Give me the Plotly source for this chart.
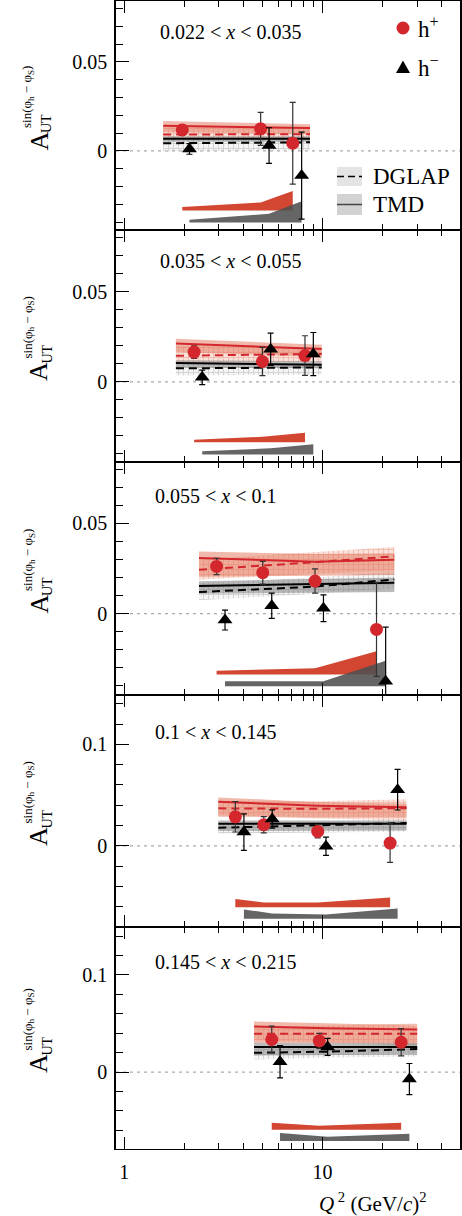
import plotly.graph_objects as go

# ---------------- data ----------------
bin_labels = ["0.022 < <i>x</i> < 0.035", "0.035 < <i>x</i> < 0.055", "0.055 < <i>x</i> < 0.1",
              "0.1 < <i>x</i> < 0.145", "0.145 < <i>x</i> < 0.215"]

# h+ points
hp_q2 = [[1.96, 4.87, 7.07], [2.25, 4.97, 8.15], [2.92, 4.99, 9.16, 18.7],
         [3.63, 5.05, 9.45, 21.9], [5.54, 9.62, 24.9]]
hp_a = [[0.0118, 0.0124, 0.0043], [0.0165, 0.0113, 0.0146], [0.0262, 0.0227, 0.0181, -0.0087],
        [0.0286, 0.0207, 0.0142, 0.0027], [0.0335, 0.0321, 0.0307]]
hp_err = [[0.003, 0.0093, 0.023], [0.0035, 0.0078, 0.011], [0.0045, 0.0063, 0.0067, 0.026],
          [0.015, 0.008, 0.0065, 0.019], [0.0137, 0.0077, 0.014]]
hp_sys = [[0.0019, 0.0045, 0.011], [0.0013, 0.003, 0.0052], [0.002, 0.0027, 0.0034, 0.0128],
          [0.0079, 0.0046, 0.0046, 0.0095], [0.0072, 0.0041, 0.0072]]

# h- points
hm_q2 = [[2.13, 5.37, 7.84], [2.47, 5.47, 8.98], [3.22, 5.54, 10.1, 20.8],
         [4.01, 5.57, 10.4, 23.9], [6.10, 10.6, 27.4]]
hm_a = [[0.0011, 0.003, -0.0139], [0.0025, 0.0181, 0.0154], [-0.0035, 0.0044, 0.003, -0.0374],
        [0.0135, 0.0265, -0.0005, 0.0553], [0.0106, 0.0259, -0.0072]]
hm_err = [[0.003, 0.010, 0.0245], [0.004, 0.009, 0.012], [0.0055, 0.007, 0.0074, 0.03],
          [0.018, 0.009, 0.009, 0.02], [0.0165, 0.0088, 0.016]]
hm_sys = [[0.0015, 0.0049, 0.012], [0.0019, 0.0035, 0.0058], [0.0028, 0.0028, 0.0028, 0.0142],
          [0.0092, 0.0053, 0.0043, 0.0102], [0.0082, 0.0044, 0.0075]]

# model curves (Q2 nodes)
mod_q2 = [[1.57, 8.64], [1.82, 9.9], [2.38, 9.16, 23.0], [2.98, 9.45, 26.5], [4.51, 10.6, 30.0]]
# TMD h+
tmd_hp = [[0.0142, 0.0128], [0.0213, 0.0182], [0.0308, 0.0288, 0.0299], [0.0434, 0.0395, 0.0379], [0.0468, 0.045, 0.0437]]
tmd_hp_lo = [[0.0105, 0.0095], [0.0165, 0.0140], [0.0205, 0.0210, 0.0214], [0.0286, 0.0285, 0.0285], [0.030, 0.030, 0.030]]
tmd_hp_hi = [[0.0168, 0.0150], [0.0239, 0.0206], [0.0345, 0.0330, 0.0335], [0.0477, 0.0430, 0.0415], [0.052, 0.050, 0.048]]
# DGLAP h+
dgl_hp = [[0.0092, 0.0094], [0.0145, 0.0155], [0.0244, 0.0285, 0.0318], [0.0369, 0.0365, 0.037], [0.0393, 0.0393, 0.0395]]
dgl_hp_lo = [[0.0068, 0.0068], [0.011, 0.011], [0.019, 0.022, 0.024], [0.030, 0.027, 0.025], [0.033, 0.030, 0.028]]
dgl_hp_hi = [[0.0135, 0.013], [0.020, 0.019], [0.030, 0.034, 0.037], [0.0445, 0.044, 0.046], [0.047, 0.048, 0.050]]
# TMD h-
tmd_hm = [[0.0068, 0.0068], [0.0104, 0.0095], [0.0153, 0.0163, 0.0172], [0.0217, 0.0217, 0.0217], [0.0259, 0.0259, 0.0259]]
tmd_hm_lo = [[0.0052, 0.005], [0.008, 0.0075], [0.011, 0.0115, 0.012], [0.0145, 0.015, 0.015], [0.017, 0.0175, 0.018]]
tmd_hm_hi = [[0.0082, 0.0082], [0.012, 0.0115], [0.018, 0.019, 0.020], [0.025, 0.025, 0.025], [0.030, 0.030, 0.030]]
# DGLAP h-
dgl_hm = [[0.0043, 0.0048], [0.0075, 0.008], [0.012, 0.015, 0.019], [0.0178, 0.020, 0.0224], [0.0198, 0.021, 0.0236]]
dgl_hm_lo = [[-0.0003, 0.0005], [0.0035, 0.004], [0.0075, 0.011, 0.014], [0.012, 0.013, 0.014], [0.013, 0.015, 0.016]]
dgl_hm_hi = [[0.0065, 0.0068], [0.0095, 0.010], [0.017, 0.020, 0.0235], [0.022, 0.024, 0.026], [0.024, 0.026, 0.030]]

# ---------------- layout geometry/styles ----------------
W, H = 462, 1216
ML, MR, MT, MB = 116, 2, 1, 67
PW, PH = W - ML - MR, H - MT - MB
panel_px = [(1, 230), (230, 462), (462, 695), (695, 927), (927, 1149)]
y_ranges = [[-0.0445, 0.0843], [-0.0445, 0.0843], [-0.045, 0.0840], [-0.0801, 0.1487], [-0.0792, 0.1493]]
y_major = [[0, 0.05], [0, 0.05], [0, 0.05], [0, 0.1], [0, 0.1]]
y_major_txt = [["0", "0.05"], ["0", "0.05"], ["0", "0.05"], ["0", "0.1"], ["0", "0.1"]]
y_minor = [0.01, 0.01, 0.01, 0.02, 0.02]
sys_base_hp = [-0.0335, -0.0335, -0.0336, -0.0605, -0.0594]
sys_base_hm = [-0.0403, -0.0404, -0.0402, -0.0720, -0.0710]

RED = "#d3262d"
SYSRED = "#d24632"
SYSGREY = "rgba(80,80,80,0.88)"
FONT = "Liberation Serif"

def px_x(p):
    return (p - ML) / PW

def px_y(p):
    return (MT + PH - p) / PH

fig = go.Figure()

def ax(i):
    return ("x" if i == 0 else f"x{i+1}"), ("y" if i == 0 else f"y{i+1}")

for i in range(5):
    xr, yr = ax(i)
    mx = mod_q2[i]
    rx = mx[::-1]
    common = dict(xaxis=xr, yaxis=yr, hoverinfo="skip", showlegend=False)
    # DGLAP hatched bands
    fig.add_trace(go.Scatter(x=mx + rx, y=dgl_hm_hi[i] + dgl_hm_lo[i][::-1], fill="toself", mode="lines",
                             line=dict(width=0), fillcolor="rgba(0,0,0,0)",
                             fillpattern=dict(shape="+", size=5, solidity=0.35,
                                              fgcolor="rgba(165,165,165,0.85)", bgcolor="rgba(215,215,215,0.25)"),
                             **common))
    fig.add_trace(go.Scatter(x=mx + rx, y=dgl_hp_hi[i] + dgl_hp_lo[i][::-1], fill="toself", mode="lines",
                             line=dict(width=0), fillcolor="rgba(0,0,0,0)",
                             fillpattern=dict(shape="+", size=5, solidity=0.35,
                                              fgcolor="rgba(228,140,118,0.85)", bgcolor="rgba(240,170,150,0.35)"),
                             **common))
    # TMD solid bands
    fig.add_trace(go.Scatter(x=mx + rx, y=tmd_hp_hi[i] + tmd_hp_lo[i][::-1], fill="toself", mode="lines",
                             line=dict(width=0), fillcolor="rgba(226,115,88,0.5)", **common))
    fig.add_trace(go.Scatter(x=mx + rx, y=tmd_hm_hi[i] + tmd_hm_lo[i][::-1], fill="toself", mode="lines",
                             line=dict(width=0), fillcolor="rgba(120,120,120,0.5)", **common))
    # central curves
    fig.add_trace(go.Scatter(x=mx, y=tmd_hp[i], mode="lines", line=dict(color=RED, width=2), **common))
    fig.add_trace(go.Scatter(x=mx, y=dgl_hp[i], mode="lines", line=dict(color=RED, width=2, dash="8px,5px"), **common))
    fig.add_trace(go.Scatter(x=mx, y=tmd_hm[i], mode="lines", line=dict(color="black", width=2), **common))
    fig.add_trace(go.Scatter(x=mx, y=dgl_hm[i], mode="lines", line=dict(color="black", width=2, dash="8px,5px"), **common))
    # systematic bands
    bp = sys_base_hp[i]
    fig.add_trace(go.Scatter(x=hp_q2[i] + hp_q2[i][::-1],
                             y=[bp + s for s in hp_sys[i]] + [bp for _ in hp_sys[i]],
                             fill="toself", mode="lines", line=dict(width=0), fillcolor=SYSRED, **common))
    bm = sys_base_hm[i]
    fig.add_trace(go.Scatter(x=hm_q2[i] + hm_q2[i][::-1],
                             y=[bm + s for s in hm_sys[i]] + [bm for _ in hm_sys[i]],
                             fill="toself", mode="lines", line=dict(width=0), fillcolor=SYSGREY, **common))
    # data points
    fig.add_trace(go.Scatter(x=hp_q2[i], y=hp_a[i], mode="markers",
                             marker=dict(symbol="circle", size=13, color=RED),
                             error_y=dict(type="data", array=hp_err[i], color="#333", thickness=1.2, width=3),
                             **common))
    fig.add_trace(go.Scatter(x=hm_q2[i], y=hm_a[i], mode="markers",
                             marker=dict(symbol="triangle-up", size=13, color="black"),
                             error_y=dict(type="data", array=hm_err[i], color="black", thickness=1.2, width=3),
                             **common))

layout = dict(width=W, height=H, margin=dict(l=ML, r=MR, t=MT, b=MB, pad=0),
              plot_bgcolor="white", paper_bgcolor="white", showlegend=False,
              font=dict(family=FONT, color="black"))
shapes, annos = [], []
for i in range(5):
    top, bot = panel_px[i]
    xname = "xaxis" if i == 0 else f"xaxis{i+1}"
    yname = "yaxis" if i == 0 else f"yaxis{i+1}"
    xr, yr = ax(i)
    layout[xname] = dict(type="log", range=[-0.042, 1.693], domain=[0, 1], anchor=yr,
                         tickvals=[1, 10], ticktext=["1", "10"], ticks="inside", ticklen=12, tickwidth=1.2,
                         tickcolor="black",
                         minor=dict(tickvals=[2, 3, 4, 5, 6, 7, 8, 9, 20, 30, 40], ticks="inside",
                                    ticklen=6, tickwidth=1, tickcolor="black"),
                         showline=True, linewidth=1, linecolor="black", mirror="ticks",
                         showgrid=False, zeroline=False, showticklabels=(i == 4),
                         tickfont=dict(family=FONT, size=20, color="black"), ticklabelstandoff=5)
    if i > 0:
        layout[xname]["matches"] = "x"
    layout[yname] = dict(domain=[px_y(bot), px_y(top)], range=y_ranges[i], anchor=xr,
                         tickvals=y_major[i], ticktext=y_major_txt[i], ticks="inside", ticklen=13,
                         tickwidth=1.2, tickcolor="black",
                         minor=dict(dtick=y_minor[i], tick0=0, ticks="inside", ticklen=7, tickwidth=1,
                                    tickcolor="black"),
                         showline=True, linewidth=1.5, linecolor="black", mirror=True,
                         showgrid=False, zeroline=False,
                         tickfont=dict(family=FONT, size=20, color="black"), ticklabelstandoff=3)
    # zero reference line
    shapes.append(dict(type="line", xref=f"{xr} domain", yref=yr, x0=0, x1=1, y0=0, y1=0,
                       line=dict(color="#aaaaaa", width=1.2, dash="3px,4px"), layer="below"))
    # bin label
    annos.append(dict(text=bin_labels[i], xref="paper", yref="paper", x=px_x(153 if i >= 2 else 158),
                      y=px_y(top + (31 if i < 2 else 34 if i == 2 else 37 if i == 3 else 35)),
                      xanchor="left", yanchor="middle", showarrow=False,
                      font=dict(family=FONT, size=20, color="black")))
    # y-axis title pieces
    c = (top + bot) / 2
    annos.append(dict(text="A", xref="paper", yref="paper", x=px_x(38.5), y=px_y(c + 25.5),
                      textangle=-90, showarrow=False, xanchor="center", yanchor="middle",
                      font=dict(family=FONT, size=26, color="black")))
    annos.append(dict(text="UT", xref="paper", yref="paper", x=px_x(47), y=px_y(c + 8.5),
                      textangle=-90, showarrow=False, xanchor="center", yanchor="middle",
                      font=dict(family=FONT, size=14, color="black")))
    annos.append(dict(text="sin(φ<sub>h</sub> − φ<sub>S</sub>)", xref="paper", yref="paper",
                      x=px_x(28), y=px_y(c - 18.5), textangle=-90, showarrow=False,
                      xanchor="center", yanchor="middle",
                      font=dict(family=FONT, size=13, color="black")))

# x axis title
annos.append(dict(text="<i>Q</i><sup> 2</sup> (GeV/<i>c</i>)<sup>2</sup>", xref="paper", yref="paper",
                  x=px_x(429), y=px_y(1202), xanchor="right", yanchor="middle", showarrow=False,
                  font=dict(family=FONT, size=21, color="black")))

# legend (drawn in panel 1)
shapes.append(dict(type="circle", xref="paper", yref="paper", x0=px_x(396.5), x1=px_x(409.5),
                   y0=px_y(34.5), y1=px_y(21.5), fillcolor=RED, line=dict(width=0)))
shapes.append(dict(type="path", xref="paper", yref="paper",
                   path=f"M {px_x(396)},{px_y(73)} L {px_x(410)},{px_y(73)} L {px_x(403)},{px_y(60.5)} Z",
                   fillcolor="black", line=dict(width=0)))
annos.append(dict(text="h<sup>+</sup>", xref="paper", yref="paper", x=px_x(416), y=px_y(27),
                  xanchor="left", yanchor="middle", showarrow=False, font=dict(family=FONT, size=23, color="black")))
annos.append(dict(text="h<sup>−</sup>", xref="paper", yref="paper", x=px_x(416), y=px_y(66),
                  xanchor="left", yanchor="middle", showarrow=False, font=dict(family=FONT, size=23, color="black")))
shapes.append(dict(type="rect", xref="paper", yref="paper", x0=px_x(337), x1=px_x(362),
                   y0=px_y(186), y1=px_y(167), fillcolor="#e4e4e4", line=dict(width=0)))
shapes.append(dict(type="line", xref="paper", yref="paper", x0=px_x(337), x1=px_x(362),
                   y0=px_y(176.5), y1=px_y(176.5), line=dict(color="black", width=1.5, dash="7px,4px")))
shapes.append(dict(type="rect", xref="paper", yref="paper", x0=px_x(337), x1=px_x(362),
                   y0=px_y(215), y1=px_y(194), fillcolor="#d2d2d2", line=dict(width=0)))
shapes.append(dict(type="line", xref="paper", yref="paper", x0=px_x(337), x1=px_x(362),
                   y0=px_y(204.5), y1=px_y(204.5), line=dict(color="#444", width=1.5)))
annos.append(dict(text="DGLAP", xref="paper", yref="paper", x=px_x(371), y=px_y(176),
                  xanchor="left", yanchor="middle", showarrow=False, font=dict(family=FONT, size=23, color="black")))
annos.append(dict(text="TMD", xref="paper", yref="paper", x=px_x(371), y=px_y(204.5),
                  xanchor="left", yanchor="middle", showarrow=False, font=dict(family=FONT, size=23, color="black")))

layout["shapes"] = shapes
layout["annotations"] = annos
fig.update_layout(**layout)
fig.write_html("out.html")
